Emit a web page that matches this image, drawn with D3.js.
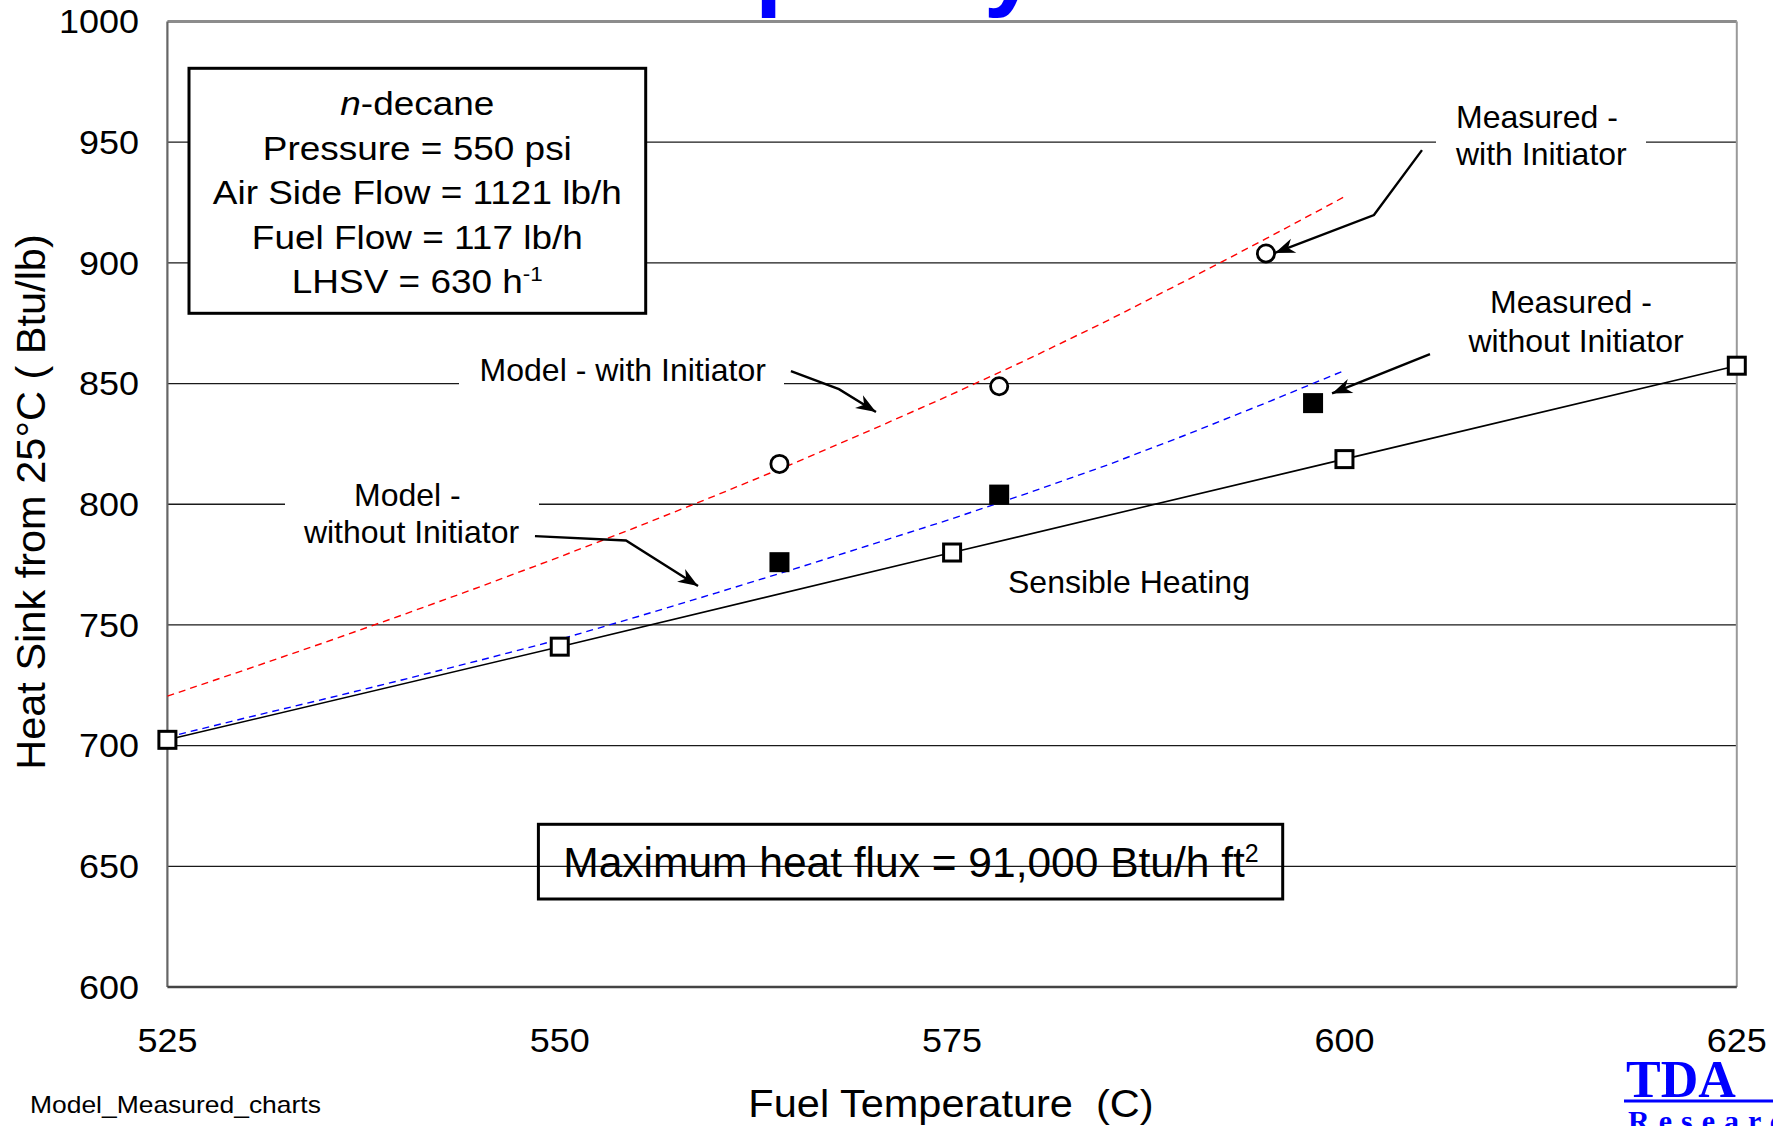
<!DOCTYPE html>
<html>
<head>
<meta charset="utf-8">
<script src="https://cdn.jsdelivr.net/npm/d3@7"></script>
<style>
  html, body { margin: 0; padding: 0; background: #fff; overflow: hidden; }
  svg { display: block; }
  text { font-family: "Liberation Sans", Arial, Helvetica, sans-serif; fill: #000; }
</style>
</head>
<body>
<svg id="chart" width="1773" height="1126"></svg>
<script>
// ---- Axis ticks -----------------------------------------------------------
const xTicks = [525, 550, 575, 600, 625];                         // Fuel temperature (C)
const yTicks = [600, 650, 700, 750, 800, 850, 900, 950, 1000];    // Heat sink (Btu/lb)

// ---- Sensible heating (open squares, solid line) --------------------------
const sensibleTemp = [525, 550, 575, 600, 625];
const sensibleHeat = [702.4, 741, 780, 818.7, 857.4];

// ---- Measured, with initiator (open circles) -------------------------------
const measWithTemp = [564, 578, 595];
const measWithHeat = [816.7, 848.9, 903.9];

// ---- Measured, without initiator (filled squares) -------------------------
const measWithoutTemp = [564, 578, 598];
const measWithoutHeat = [776, 804, 841.9];

// ---- Model curves (dashed) ------------------------------------------------
const modelTemp        = [525, 530, 535, 540, 545, 550, 555, 560, 565, 570, 575, 580, 585, 590, 595, 600];
const modelWithHeat    = [720.5, 731.5, 742.7, 754.2, 766.0, 778.2, 790.8, 803.8, 817.2, 831.2, 845.6, 860.6, 876.4, 893.0, 910.0, 927.4];
const modelWithoutHeat = [703.5, 711.5, 719.3, 727.3, 735.5, 744.0, 753.5, 763.3, 773.3, 783.6, 794.0, 805.0, 816.5, 829.0, 842.0, 855.4];

// ---- Text -----------------------------------------------------------------
const infoLines = ["decane", "Pressure = 550 psi", "Air Side Flow = 1121 lb/h", "Fuel Flow = 117 lb/h", "LHSV = 630 h"];

// Callout arrows, in data units (temperature, heat sink)
const callouts = [
  [[564.73, 855.2], [567.79, 847.7], [570.15, 838.2]],   // Model - with Initiator
  [[548.42, 786.8], [554.22, 785.0], [558.81, 766.1]],   // Model - without Initiator
  [[604.94, 946.7], [601.88, 919.8], [595.57, 904.1]],   // Measured - with Initiator
  [[605.45, 862.2], [599.21, 845.9]]                     // Measured - without Initiator
];

// ---- Layout ---------------------------------------------------------------
const svg = d3.select("#chart");
const plot = { left: 167.4, right: 1736.8, top: 21.5, bottom: 987 };

const x = d3.scaleLinear().domain([525, 625]).range([plot.left, plot.right]);
const y = d3.scaleLinear().domain([600, 1000]).range([plot.bottom, plot.top]);

// text helper with optional horizontal stretch
function label(parent, px, py, str, o = {}) {
  const g = parent.append("g")
    .attr("transform", `translate(${px},${py}) scale(${o.sx || 1},1)`);
  const t = g.append("text")
    .attr("text-anchor", o.anchor || "start")
    .style("font-size", (o.size || 32) + "px");
  if (o.weight) t.style("font-weight", o.weight);
  if (o.family) t.style("font-family", o.family);
  if (o.fill) t.style("fill", o.fill);
  if (o.pre) t.style("white-space", "pre");
  if (str !== null) t.text(str);
  return t;
}

// ---- Slide title (runs off the top edge) ----------------------------------
const titleStyle = { size: 98, weight: "bold", fill: "#0000ff", family: "'Liberation Sans', Arial, sans-serif" };
label(svg, 755, -2, "Heat Sink Ca", Object.assign({ anchor: "end" }, titleStyle));
label(svg, 755, -2, "pacity", titleStyle);

// ---- Grid and frame -------------------------------------------------------
const grid = svg.append("g");
grid.selectAll("line.h")
  .data(yTicks.filter(v => v > 600 && v < 1000))
  .join("line")
  .attr("x1", plot.left).attr("x2", plot.right)
  .attr("y1", d => y(d)).attr("y2", d => y(d))
  .attr("stroke", "#1a1a1a").attr("stroke-width", 1.3);

// top edge
grid.append("line")
  .attr("x1", plot.left).attr("x2", plot.right)
  .attr("y1", y(1000)).attr("y2", y(1000))
  .attr("stroke", "#8c8c8c").attr("stroke-width", 3);
// right edge
grid.append("line")
  .attr("x1", plot.right).attr("x2", plot.right)
  .attr("y1", y(1000)).attr("y2", y(600))
  .attr("stroke", "#9a9a9a").attr("stroke-width", 2);
// left axis
grid.append("line")
  .attr("x1", plot.left).attr("x2", plot.left)
  .attr("y1", y(1000)).attr("y2", y(600))
  .attr("stroke", "#666").attr("stroke-width", 2.2);
// bottom axis
grid.append("line")
  .attr("x1", plot.left).attr("x2", plot.right)
  .attr("y1", y(600)).attr("y2", y(600))
  .attr("stroke", "#444").attr("stroke-width", 2.6);

// ---- Tick labels ----------------------------------------------------------
const yAxis = svg.append("g")
  .attr("transform", `translate(${plot.left},0)`)
  .call(d3.axisLeft(y).tickValues(yTicks).tickSize(0).tickFormat(d3.format("d")));
yAxis.select(".domain").remove();
yAxis.selectAll("text")
  .attr("x", -(plot.left - 139) / 1.09)
  .attr("dy", "0.34em")
  .attr("transform", "scale(1.09,1)")
  .attr("fill", "#000")
  .style("font-size", "33px")
  .style("font-family", "'Liberation Sans', Arial, sans-serif");

const xAxis = svg.append("g")
  .attr("transform", `translate(0,${plot.bottom})`)
  .call(d3.axisBottom(x).tickValues(xTicks).tickSize(0).tickFormat(d3.format("d")));
xAxis.select(".domain").remove();
xAxis.selectAll("text")
  .attr("y", 1051.7 - plot.bottom)
  .attr("dy", 0)
  .attr("transform", "scale(1.09,1)")
  .attr("fill", "#000")
  .style("font-size", "33px")
  .style("font-family", "'Liberation Sans', Arial, sans-serif");
xAxis.selectAll(".tick")
  .attr("transform", d => `translate(${x(d)},0)`);

// ---- Axis titles ----------------------------------------------------------
label(svg, 951, 1117, "Fuel Temperature  (C)", { anchor: "middle", size: 39, sx: 1.065, pre: true });

svg.append("text")
  .attr("transform", "translate(45,502) rotate(-90)")
  .attr("text-anchor", "middle")
  .style("font-size", "41.5px")
  .text("Heat Sink from 25°C ( Btu/lb)");

label(svg, 30, 1113, "Model_Measured_charts", { size: 23, sx: 1.15 });

// ---- Label backgrounds that break the grid lines --------------------------
const bg = svg.append("g");
bg.append("rect").attr("x", 459).attr("y", 350).attr("width", 325).attr("height", 42).attr("fill", "#fff");
bg.append("rect").attr("x", 285).attr("y", 476).attr("width", 254).attr("height", 78).attr("fill", "#fff");
bg.append("rect").attr("x", 1436).attr("y", 98).attr("width", 210).attr("height", 78).attr("fill", "#fff");

// ---- Info box -------------------------------------------------------------
svg.append("rect")
  .attr("x", 189).attr("y", 68.3).attr("width", 456.7).attr("height", 245)
  .attr("fill", "#fff").attr("stroke", "#000").attr("stroke-width", 3);

const infoCx = 417.3;
infoLines.forEach((line, i) => {
  const t = label(svg, infoCx, 115 + i * 44.6, null, { anchor: "middle", size: 33, sx: 1.12 });
  if (i === 0) {
    t.append("tspan").style("font-style", "italic").text("n");
    t.append("tspan").text("-" + line);
  } else if (i === infoLines.length - 1) {
    t.append("tspan").text(line);
    t.append("tspan").attr("dy", -12).style("font-size", "20px").text("-1");
  } else {
    t.text(line);
  }
});

// ---- Heat flux box --------------------------------------------------------
svg.append("rect")
  .attr("x", 538.4).attr("y", 824.3).attr("width", 744.3).attr("height", 74.7)
  .attr("fill", "none").attr("stroke", "#000").attr("stroke-width", 3);
const flux = label(svg, 911, 877, null, { anchor: "middle", size: 42.5 });
flux.append("tspan").text("Maximum heat flux = 91,000 Btu/h ft");
flux.append("tspan").attr("dy", -15).style("font-size", "25px").text("2");

// ---- Curves ---------------------------------------------------------------
const line = d3.line().x(d => x(d[0])).y(d => y(d[1]));

svg.append("path")
  .datum(modelTemp.map((t, i) => [t, modelWithHeat[i]]))
  .attr("d", line).attr("fill", "none")
  .attr("stroke", "#ff0000").attr("stroke-width", 1.4).attr("stroke-dasharray", "7,5");

svg.append("path")
  .datum(modelTemp.map((t, i) => [t, modelWithoutHeat[i]]))
  .attr("d", line).attr("fill", "none")
  .attr("stroke", "#0000ff").attr("stroke-width", 1.4).attr("stroke-dasharray", "7,5");

svg.append("path")
  .datum(sensibleTemp.map((t, i) => [t, sensibleHeat[i]]))
  .attr("d", line).attr("fill", "none")
  .attr("stroke", "#000").attr("stroke-width", 1.6);

// ---- Markers --------------------------------------------------------------
svg.append("g").selectAll("rect")
  .data(sensibleTemp.map((t, i) => [t, sensibleHeat[i]]))
  .join("rect")
  .attr("x", d => x(d[0]) - 8.5).attr("y", d => y(d[1]) - 8.5)
  .attr("width", 17).attr("height", 17)
  .attr("fill", "#fff").attr("stroke", "#000").attr("stroke-width", 3);

svg.append("g").selectAll("rect")
  .data(measWithoutTemp.map((t, i) => [t, measWithoutHeat[i]]))
  .join("rect")
  .attr("x", d => x(d[0]) - 10).attr("y", d => y(d[1]) - 10)
  .attr("width", 20).attr("height", 20)
  .attr("fill", "#000");

svg.append("g").selectAll("circle")
  .data(measWithTemp.map((t, i) => [t, measWithHeat[i]]))
  .join("circle")
  .attr("cx", d => x(d[0])).attr("cy", d => y(d[1])).attr("r", 8.6)
  .attr("fill", "#fff").attr("stroke", "#000").attr("stroke-width", 2.8);

// ---- Callout labels -------------------------------------------------------
label(svg, 479.6, 380.7, "Model - with Initiator", { size: 32 });
label(svg, 407.4, 505.7, "Model -", { anchor: "middle", size: 32 });
label(svg, 411.5, 543, "without Initiator", { anchor: "middle", size: 32 });
label(svg, 1456, 127.7, "Measured -", { size: 32 });
label(svg, 1456, 165, "with Initiator", { size: 32 });
label(svg, 1571, 313, "Measured -", { anchor: "middle", size: 32 });
label(svg, 1576, 351.7, "without Initiator", { anchor: "middle", size: 32 });
label(svg, 1008, 593, "Sensible Heating", { size: 32 });

// ---- Callout arrows -------------------------------------------------------
svg.append("defs").append("marker")
  .attr("id", "arrowhead")
  .attr("markerUnits", "userSpaceOnUse")
  .attr("viewBox", "-22 -9 24 18")
  .attr("refX", 0).attr("refY", 0)
  .attr("markerWidth", 24).attr("markerHeight", 18)
  .attr("orient", "auto")
  .append("path")
  .attr("d", "M0,0 L-20,-7.5 L-14,0 L-20,7.5 Z")
  .attr("fill", "#000");

svg.append("g").selectAll("path")
  .data(callouts)
  .join("path")
  .attr("d", line)
  .attr("fill", "none")
  .attr("stroke", "#000").attr("stroke-width", 2.4)
  .attr("marker-end", "url(#arrowhead)");

// ---- TDA Research logo ----------------------------------------------------
const logoFont = "'Liberation Serif', 'Times New Roman', serif";
label(svg, 1626, 1097, "TDA", { size: 52, weight: "bold", fill: "#0000ff", family: logoFont });
svg.append("line")
  .attr("x1", 1624).attr("x2", 1773).attr("y1", 1101).attr("y2", 1101)
  .attr("stroke", "#0000ff").attr("stroke-width", 3);
label(svg, 1628, 1131, "Research", { size: 30, weight: "bold", fill: "#0000ff", family: logoFont })
  .style("letter-spacing", "9px");
</script>
</body>
</html>
